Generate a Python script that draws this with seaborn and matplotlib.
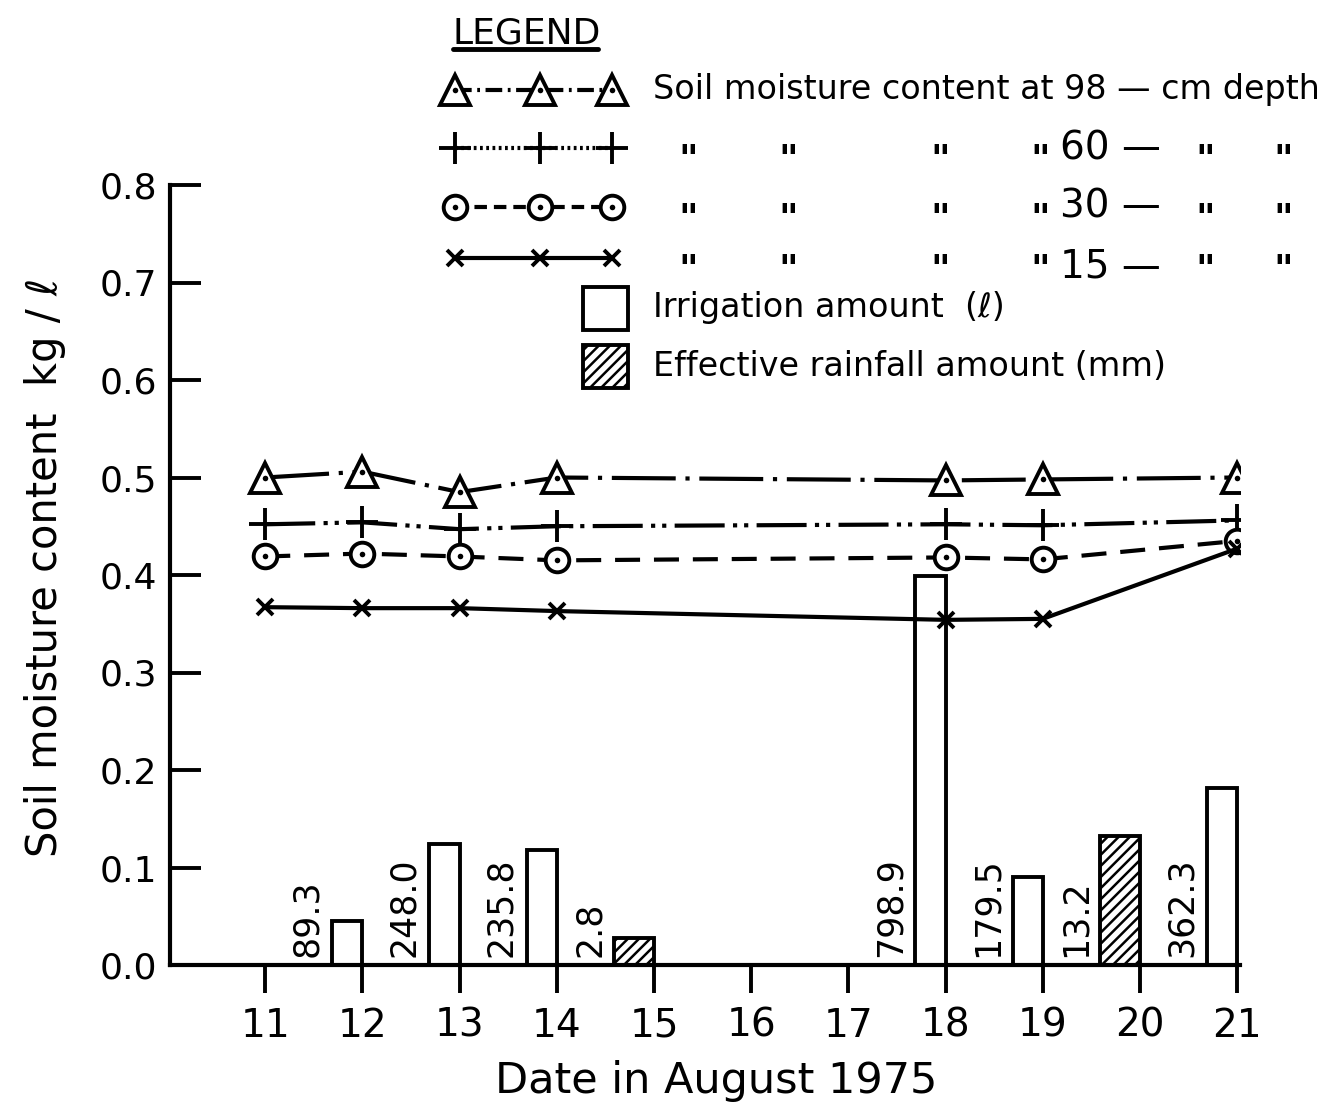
import matplotlib
matplotlib.use("Agg")
import matplotlib.pyplot as plt
from matplotlib.lines import Line2D
from matplotlib.patches import Rectangle
import pandas as pd
import seaborn as sns

# Soil moisture readings (kg/l) at four depths, August 1975
days = [11, 12, 13, 14, 18, 19, 21]
moist_98 = [0.500, 0.506, 0.485, 0.500, 0.497, 0.498, 0.500]
moist_60 = [0.452, 0.454, 0.447, 0.450, 0.452, 0.451, 0.456]
moist_30 = [0.419, 0.422, 0.419, 0.415, 0.418, 0.416, 0.435]
moist_15 = [0.367, 0.366, 0.366, 0.363, 0.354, 0.355, 0.427]

# Water inputs
irrigation_days = [12, 13, 14, 18, 19, 21]
irrigation_litres = [89.3, 248.0, 235.8, 798.9, 179.5, 362.3]
rain_days = [15, 20]
rain_mm = [2.8, 13.2]

# Bar heights are drawn on the moisture axis: amount / scale
IRRIGATION_SCALE = 2000.0
RAIN_SCALE = 100.0

x_ticks = [11, 12, 13, 14, 15, 16, 17, 18, 19, 20, 21]
y_ticks = [0.0, 0.1, 0.2, 0.3, 0.4, 0.5, 0.6, 0.7, 0.8]

sns.set_style("ticks")
plt.rcParams["font.family"] = ["DejaVu Sans"]
plt.rcParams["text.color"] = "black"
plt.rcParams["axes.labelcolor"] = "black"
plt.rcParams["xtick.color"] = "black"
plt.rcParams["ytick.color"] = "black"
plt.rcParams["lines.scale_dashes"] = False
plt.rcParams["hatch.linewidth"] = 1.8
plt.rcParams["hatch.color"] = "black"

W, H = 1340, 1104
fig = plt.figure(figsize=(W / 100, H / 100), dpi=100)
fig.patch.set_facecolor("white")
ax = fig.add_axes([170 / W, 139 / H, 1070 / W, 780 / H])
ax.set_facecolor("white")

LW = 3.0
MEW = 2.8
series = [
    ("98", moist_98, dict(marker="^", markersize=22, linestyle=(0, (46, 7, 3, 7)))),
    ("60", moist_60, dict(marker="+", markersize=23, linestyle=(0, (36, 6, 3, 5, 3, 6)))),
    ("30", moist_30, dict(marker="o", markersize=17, linestyle=(0, (18, 10)))),
    ("15", moist_15, dict(marker="x", markersize=11, linestyle="-")),
]
dotted = {"98", "30"}

# Bars first so the moisture curves sit on top
irr_h = [v / IRRIGATION_SCALE for v in irrigation_litres]
rain_h = [v / RAIN_SCALE for v in rain_mm]
IRR_W, RAIN_W = 0.31, 0.41
ax.bar(irrigation_days, irr_h, width=-IRR_W, align="edge",
       facecolor="white", edgecolor="black", linewidth=2.8, zorder=2)
ax.bar(rain_days, rain_h, width=-RAIN_W, align="edge",
       facecolor="white", edgecolor="black", linewidth=2.8, hatch="///", zorder=2)

for d, v in zip(irrigation_days, irrigation_litres):
    ax.text(d - IRR_W - 0.26, 0.008, f"{v:.1f}", rotation=90, ha="center",
            va="bottom", fontsize=25, zorder=3)
for d, v in zip(rain_days, rain_mm):
    ax.text(d - RAIN_W - 0.25, 0.008, f"{v:.1f}", rotation=90, ha="center",
            va="bottom", fontsize=25, zorder=3)

for name, vals, st in series:
    df = pd.DataFrame({"day": days, "moisture": vals})
    sns.lineplot(data=df, x="day", y="moisture", ax=ax, color="black",
                 linewidth=LW, markerfacecolor="white", markeredgecolor="black",
                 markeredgewidth=MEW, zorder=5, **st)
    if name in dotted:
        sns.lineplot(data=df, x="day", y="moisture", ax=ax, color="black",
                     linestyle="none", marker="o", markersize=4,
                     markeredgecolor="black", markeredgewidth=0, zorder=6)

ax.set_xlim(10.02, 21.03)
ax.set_ylim(0, 0.8)
ax.set_xticks(x_ticks)
ax.set_xticklabels([str(t) for t in x_ticks], fontsize=28)
ax.set_yticks(y_ticks)
ax.set_yticklabels([f"{t:.1f}" for t in y_ticks], fontsize=26)
ax.tick_params(axis="y", direction="in", length=22, width=2.8, pad=9)
ax.tick_params(axis="x", direction="out", length=20, width=2.8, pad=10)
for s in ("top", "right"):
    ax.spines[s].set_visible(False)
for s in ("left", "bottom"):
    ax.spines[s].set_linewidth(3.0)
    ax.spines[s].set_color("black")

ax.set_xlabel("Date in August 1975", fontsize=31)
ax.xaxis.set_label_coords(0.51, -0.122)
ax.set_ylabel("Soil moisture content  kg / ℓ", fontsize=30)
ax.yaxis.set_label_coords(-0.097, 0.51)


# ---- legend block drawn in figure pixels ----
def fx(px):
    return px / W


def fy(py):
    return 1 - py / H


fig.text(fx(452), fy(43), "LEGEND", fontsize=26, ha="left", va="baseline")
fig.add_artist(Line2D([fx(453), fx(598)], [fy(49), fy(49)], color="black", lw=3.5))

legend_styles = [
    (90, dict(marker="^", markersize=22, linestyle=(0, (12, 4, 2, 4)))),
    (148, dict(marker="+", markersize=23, linestyle=(0, (2, 2.5)))),
    (207, dict(marker="o", markersize=17, linestyle=(0, (9, 5)))),
    (258, dict(marker="x", markersize=11, linestyle="-")),
]
mx = [fx(455), fx(540), fx(612)]
for i, (py, st) in enumerate(legend_styles):
    fig.add_artist(Line2D(mx, [fy(py)] * 3, color="black", lw=LW,
                          markerfacecolor="white", markeredgecolor="black",
                          markeredgewidth=MEW, **st))
    if i in (0, 2):
        fig.add_artist(Line2D(mx, [fy(py)] * 3, color="black", linestyle="none",
                              marker="o", markersize=4, markeredgewidth=0))

LFS = 24
fig.text(fx(653), fy(90), "Soil moisture content at 98 — cm depth",
         fontsize=LFS, ha="left", va="center")
ditto_x = [688, 788, 940, 1040, 1205, 1283]
for py, depth in [(148, "60"), (207, "30"), (258, "15")]:
    for x in ditto_x:
        fig.text(fx(x), fy(py + 13), "\"", fontsize=LFS + 3, ha="center",
                 va="center", fontweight="bold")
    dy = 8 if depth == "15" else 0
    fig.text(fx(1060), fy(py + dy), f"{depth} —", fontsize=LFS + 4,
             ha="left", va="center")

fig.add_artist(Rectangle((fx(583), fy(330)), 45 / W, 43 / H, transform=fig.transFigure,
                         facecolor="white", edgecolor="black", lw=2.8))
fig.add_artist(Rectangle((fx(583), fy(388)), 45 / W, 43 / H, transform=fig.transFigure,
                         facecolor="white", edgecolor="black", lw=2.8, hatch="///"))
fig.text(fx(653), fy(308), "Irrigation amount  (ℓ)", fontsize=LFS, ha="left", va="center")
fig.text(fx(653), fy(367), "Effective rainfall amount (mm)", fontsize=LFS,
         ha="left", va="center")

fig.savefig("out.png", dpi=100, facecolor="white")
